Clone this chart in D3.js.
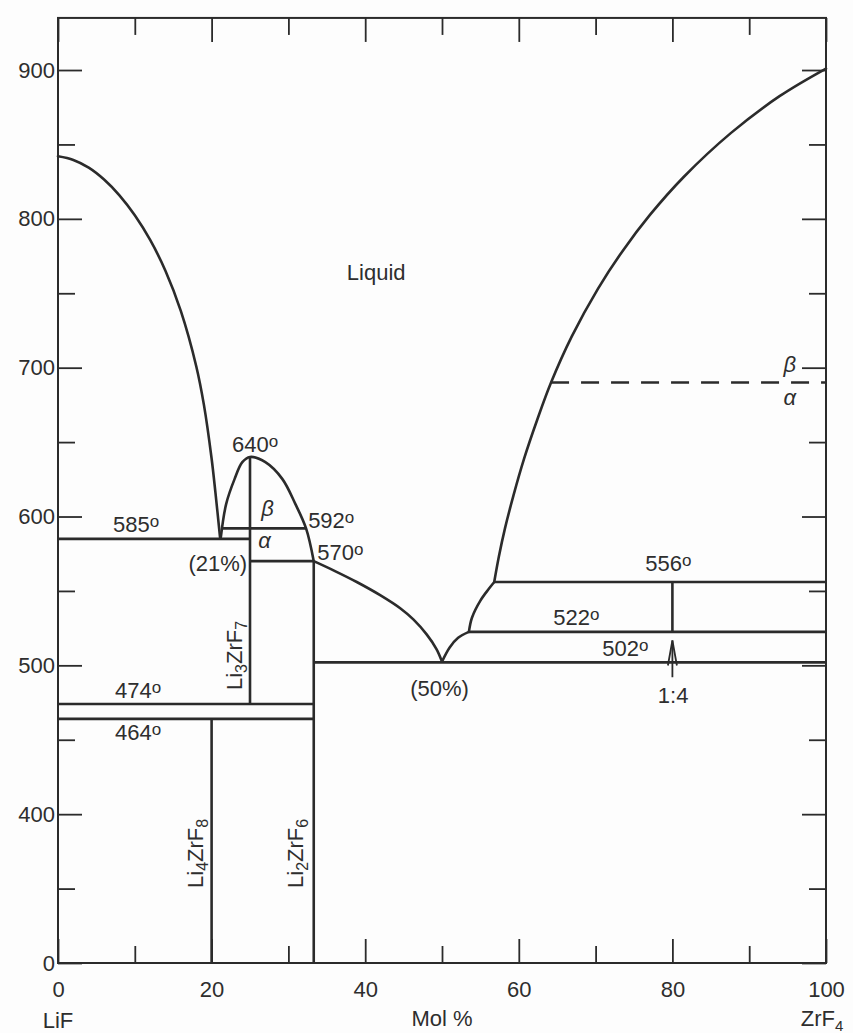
<!DOCTYPE html>
<html>
<head>
<meta charset="utf-8">
<script src="https://cdn.jsdelivr.net/npm/d3@7"></script>
<style>
  html, body { margin: 0; padding: 0; background: #fdfdfd; }
  svg { display: block; }
  text { font-family: "Liberation Sans", Arial, sans-serif; fill: #2e2e2e; }
</style>
</head>
<body>
<script>
// ---------- data (mol % ZrF4, temperature °C) ----------
const xMajorTicks = [0, 20, 40, 60, 80, 100];
const xMinorTicks = [10, 30, 50, 70, 90];
const yMajorTicks = [300, 400, 500, 600, 700, 800, 900];   // 300 is the broken-axis "0"
const yMinorTicks = [350, 450, 550, 650, 750, 850];
const yTickLabels = ["0", "400", "500", "600", "700", "800", "900"];

const leftLiquidus = [[0, 842], [2, 839.6], [4, 834.4], [6, 826.4], [8, 815.8], [10, 802.4], [12, 785.8],
  [14, 765], [16, 738], [18, 701], [19, 675], [20, 639], [20.5, 616], [21.1, 586]];
const domeLiquidus = [[21.2, 586], [21.9, 608.5], [23.0, 625.3], [24.0, 636.5], [25, 640],
  [27.0, 636.5], [29.2, 625.3], [30.9, 608.5], [32.3, 592], [33.3, 570]];
const midLiquidus = [[33.3, 570], [36, 563.5], [38.9, 556], [42, 547], [44.6, 538.2],
  [46.3, 530.7], [48, 520.8], [49.3, 510.8], [50, 502.5]];
const eutecticRight1 = [[50, 502.5], [51, 512], [52.1, 518.5], [53.5, 522.5]];
const eutecticRight2 = [[53.5, 522.5], [53.9, 532], [55, 543.5], [56.1, 551.4], [56.8, 556]];
const rightLiquidus = [[56.8, 556], [57.4, 573], [58.2, 592], [59.3, 614], [60.7, 639], [62.4, 665],
  [64.2, 690], [66.9, 721], [70.3, 753], [73.5, 778.3], [77.1, 802.8], [81.5, 828.3], [87.6, 857.6],
  [94, 882.6], [100, 901]];

// isotherms and phase boundaries: [x1, T1, x2, T2]
const solidLines = [
  [0, 585, 25, 585], [21.3, 592, 32.3, 592], [25, 570, 33.3, 570],
  [0, 474, 33.3, 474], [0, 464, 33.3, 464], [33.3, 502, 100, 502],
  [56.8, 556, 100, 556], [53.5, 522.5, 100, 522.5],
  [25, 640, 25, 474], [33.3, 570, 33.3, 300], [20, 464, 20, 300], [80, 556, 80, 522.5]
];
const dashedLines = [[64.2, 690, 100, 690]];
const arrow14 = [80, 492, 516.7];  // x, tail T, tip T

// labels: text, mol %, T, anchor
const tempLabels = [
  ["640", 25.67, 643.4, "middle"], ["592", 32.57, 592.3, "start"], ["570", 33.75, 570.8, "start"],
  ["585", 7.17, 589.6, "start"], ["474", 7.43, 478.1, "start"], ["464", 7.43, 449.9, "start"],
  ["556", 76.48, 563.4, "start"], ["522", 64.5, 527.1, "start"], ["502", 70.88, 506.3, "start"]
];
const plainLabels = [
  ["(21%)", 24.63, 563.4, "end"], ["(50%)", 45.86, 479.4, "start"],
  ["1:4", 80.1, 474.7, "middle"], ["Liquid", 41.43, 758.9, "middle"]
];
const greekLabels = [
  ["β", 26.45, 600.4], ["α", 26.06, 578.9], ["β", 94.46, 697.1], ["α", 94.46, 675]
];
const compoundLabels = [
  // main, sub1, mid, sub2, mol %, T start
  ["Li", "3", "ZrF", "7", 23.9, 483.4],
  ["Li", "4", "ZrF", "8", 18.9, 350.4],
  ["Li", "2", "ZrF", "6", 31.9, 350.4]
];

// ---------- drawing ----------
const W = 853, H = 1033;
const ink = "#2b2b2b";
const svg = d3.select("body").append("svg").attr("width", W).attr("height", H);
svg.append("rect").attr("width", W).attr("height", H).attr("fill", "#fdfdfd");

const x = d3.scaleLinear().domain([0, 100]).range([58, 826]);
const y = d3.scaleLinear().domain([300, 935]).range([963, 963 - 635 * 1.4883]);

// axes with inward ticks
function axisGroup(axis, transform) {
  const g = svg.append("g").attr("transform", transform).call(axis);
  g.select(".domain").remove();
  g.selectAll(".tick line").attr("stroke", ink).attr("stroke-width", 1.8);
  g.selectAll(".tick text").attr("font-size", 22).attr("fill", ink)
    .attr("font-family", "Liberation Sans, Arial, sans-serif");
  return g;
}
const fmtY = d => yTickLabels[yMajorTicks.indexOf(d)];
axisGroup(d3.axisLeft(y).tickValues(yMajorTicks).tickSizeInner(-24).tickSizeOuter(0).tickPadding(3).tickFormat(fmtY), `translate(${x(0)},0)`);
axisGroup(d3.axisLeft(y).tickValues(yMinorTicks).tickSizeInner(-17).tickSizeOuter(0).tickFormat(""), `translate(${x(0)},0)`);
axisGroup(d3.axisRight(y).tickValues(yMajorTicks).tickSizeInner(-24).tickSizeOuter(0).tickFormat(""), `translate(${x(100)},0)`);
axisGroup(d3.axisRight(y).tickValues(yMinorTicks).tickSizeInner(-17).tickSizeOuter(0).tickFormat(""), `translate(${x(100)},0)`);
axisGroup(d3.axisBottom(x).tickValues(xMajorTicks).tickSizeInner(-24).tickSizeOuter(0).tickPadding(18).tickFormat(d3.format("d")), `translate(0,${y(300)})`);
axisGroup(d3.axisBottom(x).tickValues(xMinorTicks).tickSizeInner(-17).tickSizeOuter(0).tickFormat(""), `translate(0,${y(300)})`);
axisGroup(d3.axisTop(x).tickValues(xMajorTicks).tickSizeInner(-24).tickSizeOuter(0).tickFormat(""), `translate(0,${y(935)})`);
axisGroup(d3.axisTop(x).tickValues(xMinorTicks).tickSizeInner(-17).tickSizeOuter(0).tickFormat(""), `translate(0,${y(935)})`);

// frame
svg.append("rect")
  .attr("x", x(0)).attr("y", y(935))
  .attr("width", x(100) - x(0)).attr("height", y(300) - y(935))
  .attr("fill", "none").attr("stroke", ink).attr("stroke-width", 2);

// axis captions
svg.append("text").attr("x", x(0)).attr("y", 1028).attr("text-anchor", "middle").attr("font-size", 22).text("LiF");
svg.append("text").attr("x", x(50)).attr("y", 1026).attr("text-anchor", "middle").attr("font-size", 22).text("Mol %");
const zr = svg.append("text").attr("x", x(100) - 4).attr("y", 1026).attr("text-anchor", "middle").attr("font-size", 22);
zr.append("tspan").text("ZrF");
zr.append("tspan").attr("font-size", 15).attr("dy", 5).text("4");

// curves
const line = d3.line().x(d => x(d[0])).y(d => y(d[1])).curve(d3.curveCatmullRom.alpha(0.5));
[leftLiquidus, domeLiquidus, midLiquidus, eutecticRight1, eutecticRight2, rightLiquidus].forEach(c => {
  svg.append("path").attr("d", line(c)).attr("fill", "none").attr("stroke", ink)
    .attr("stroke-width", 2.6).attr("stroke-linejoin", "round").attr("stroke-linecap", "round");
});

// straight boundaries
svg.selectAll("line.solid").data(solidLines).join("line").attr("class", "solid")
  .attr("x1", d => x(d[0])).attr("y1", d => y(d[1])).attr("x2", d => x(d[2])).attr("y2", d => y(d[3]))
  .attr("stroke", ink).attr("stroke-width", 2.6);
svg.selectAll("line.dashed").data(dashedLines).join("line").attr("class", "dashed")
  .attr("x1", d => x(d[0])).attr("y1", d => y(d[1])).attr("x2", d => x(d[2])).attr("y2", d => y(d[3]))
  .attr("stroke", ink).attr("stroke-width", 2.6).attr("stroke-dasharray", "18 12");

// 1:4 arrow
{
  const ax = x(arrow14[0]), yt = y(arrow14[1]), yh = y(arrow14[2]);
  svg.append("line").attr("x1", ax).attr("y1", yt).attr("x2", ax).attr("y2", yh)
    .attr("stroke", ink).attr("stroke-width", 1.8);
  svg.append("path").attr("d", `M${ax - 4.5},${yh + 25} L${ax},${yh} L${ax + 4.5},${yh + 25}`)
    .attr("fill", "none").attr("stroke", ink).attr("stroke-width", 1.8).attr("stroke-linejoin", "miter");
}

// temperature labels with degree mark
tempLabels.forEach(([t, mx, T, anc]) => {
  const tx = svg.append("text").attr("x", x(mx)).attr("y", y(T)).attr("text-anchor", anc).attr("font-size", 22);
  tx.append("tspan").text(t);
  tx.append("tspan").attr("font-size", 17).attr("dy", -5).text("o");
});
plainLabels.forEach(([t, mx, T, anc]) => {
  svg.append("text").attr("x", x(mx)).attr("y", y(T)).attr("text-anchor", anc).attr("font-size", 22).text(t);
});
greekLabels.forEach(([t, mx, T]) => {
  svg.append("text").attr("x", x(mx)).attr("y", y(T)).attr("font-size", 22)
    .attr("font-style", "italic").text(t);
});
compoundLabels.forEach(([a, s1, b, s2, mx, T]) => {
  const tx = svg.append("text").attr("font-size", 22)
    .attr("transform", `translate(${x(mx)},${y(T)}) rotate(-90)`);
  tx.append("tspan").text(a);
  tx.append("tspan").attr("font-size", 16).attr("dy", 5).text(s1);
  tx.append("tspan").attr("dy", -5).text(b);
  tx.append("tspan").attr("font-size", 16).attr("dy", 5).text(s2);
});
</script>
</body>
</html>
